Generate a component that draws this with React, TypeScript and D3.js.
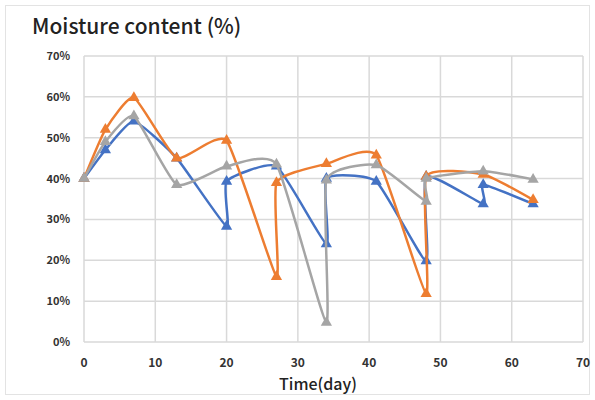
import React from "react";
import * as d3 from "d3";

// Drying trial: moisture content (%) per pile over time (days)
const blueDays = [0, 3, 7, 13, 20, 20, 27, 34, 34, 41, 48, 48, 56, 56, 63];
const blueValues = [40, 47, 54, 45, 28.3, 39.3, 43, 24, 40, 39.3, 19.8, 40.5, 33.8, 38.5, 33.8];

const orangeDays = [0, 3, 7, 13, 20, 27, 27, 34, 41, 48, 48, 56, 63];
const orangeValues = [40, 52, 59.8, 45, 49.3, 16, 39, 43.6, 45.7, 11.8, 40.5, 41, 34.8];

const grayDays = [0, 3, 7, 13, 20, 27, 34, 34, 41, 48, 48, 56, 63];
const grayValues = [40, 49, 55.3, 38.5, 43, 43.5, 4.8, 39.6, 43.3, 34.4, 40, 41.8, 39.8];

const xTicks = [0, 10, 20, 30, 40, 50, 60, 70];
const yTicks = [0, 10, 20, 30, 40, 50, 60, 70];

const seriesColors = ["#4472C4", "#ED7D31", "#A5A5A5"];

const W = 595;
const H = 400;
const plot = { left: 84, right: 583, top: 56, bottom: 342 };

export default function App() {
  const x = d3.scaleLinear().domain([0, 70]).range([plot.left, plot.right]);
  const y = d3.scaleLinear().domain([0, 70]).range([plot.bottom, plot.top]);

  const series = [
    { days: blueDays, values: blueValues, color: seriesColors[0] },
    { days: orangeDays, values: orangeValues, color: seriesColors[1] },
    { days: grayDays, values: grayValues, color: seriesColors[2] },
  ];

  const line = d3
    .line<[number, number]>()
    .x((d) => x(d[0]))
    .y((d) => y(d[1]))
    .curve(d3.curveCardinal.tension(0.5));

  const tri = d3.symbol().type(d3.symbolTriangle).size(55)();

  const font = "'Noto Sans CJK JP', 'Noto Sans', sans-serif";

  return (
    <svg
      width={W}
      height={H}
      style={{ position: "absolute", left: 0, top: 0, background: "#fff" }}
    >
      <rect x={5.5} y={5.5} width={W - 11} height={H - 11} fill="#fff" stroke="#e3e3e3" />
      <text x={32} y={34} fontFamily={font} fontSize={21} fontWeight={500} fill="#222">
        Moisture content (%)
      </text>

      {/* grid */}
      {yTicks.map((t) => (
        <line
          key={"gy" + t}
          x1={plot.left}
          x2={plot.right}
          y1={y(t)}
          y2={y(t)}
          stroke="#d9d9d9"
          strokeWidth={1.5}
        />
      ))}
      {xTicks.map((t) => (
        <line
          key={"gx" + t}
          x1={x(t)}
          x2={x(t)}
          y1={plot.top}
          y2={plot.bottom}
          stroke="#d9d9d9"
          strokeWidth={1.5}
        />
      ))}

      {/* tick labels */}
      {yTicks.map((t) => (
        <text
          key={"ly" + t}
          x={70}
          y={y(t) + 4}
          textAnchor="end"
          fontFamily={font}
          fontSize={11}
          fontWeight={700}
          fill="#333"
        >
          {t + "%"}
        </text>
      ))}
      {xTicks.map((t) => (
        <text
          key={"lx" + t}
          x={x(t)}
          y={367}
          textAnchor="middle"
          fontFamily={font}
          fontSize={12}
          fontWeight={700}
          fill="#333"
        >
          {t}
        </text>
      ))}
      <text
        x={318}
        y={390}
        textAnchor="middle"
        fontFamily={font}
        fontSize={16}
        fontWeight={500}
        fill="#222"
      >
        Time(day)
      </text>

      {/* series */}
      {series.map((s, i) => {
        const pts = s.days.map((d, j) => [d, s.values[j]] as [number, number]);
        return (
          <g key={"s" + i}>
            <path d={line(pts) || ""} fill="none" stroke={s.color} strokeWidth={2.5} />
            {pts.map((p, j) => (
              <path
                key={j}
                d={tri || ""}
                transform={`translate(${x(p[0])},${y(p[1])})`}
                fill={s.color}
              />
            ))}
          </g>
        );
      })}
    </svg>
  );
}
